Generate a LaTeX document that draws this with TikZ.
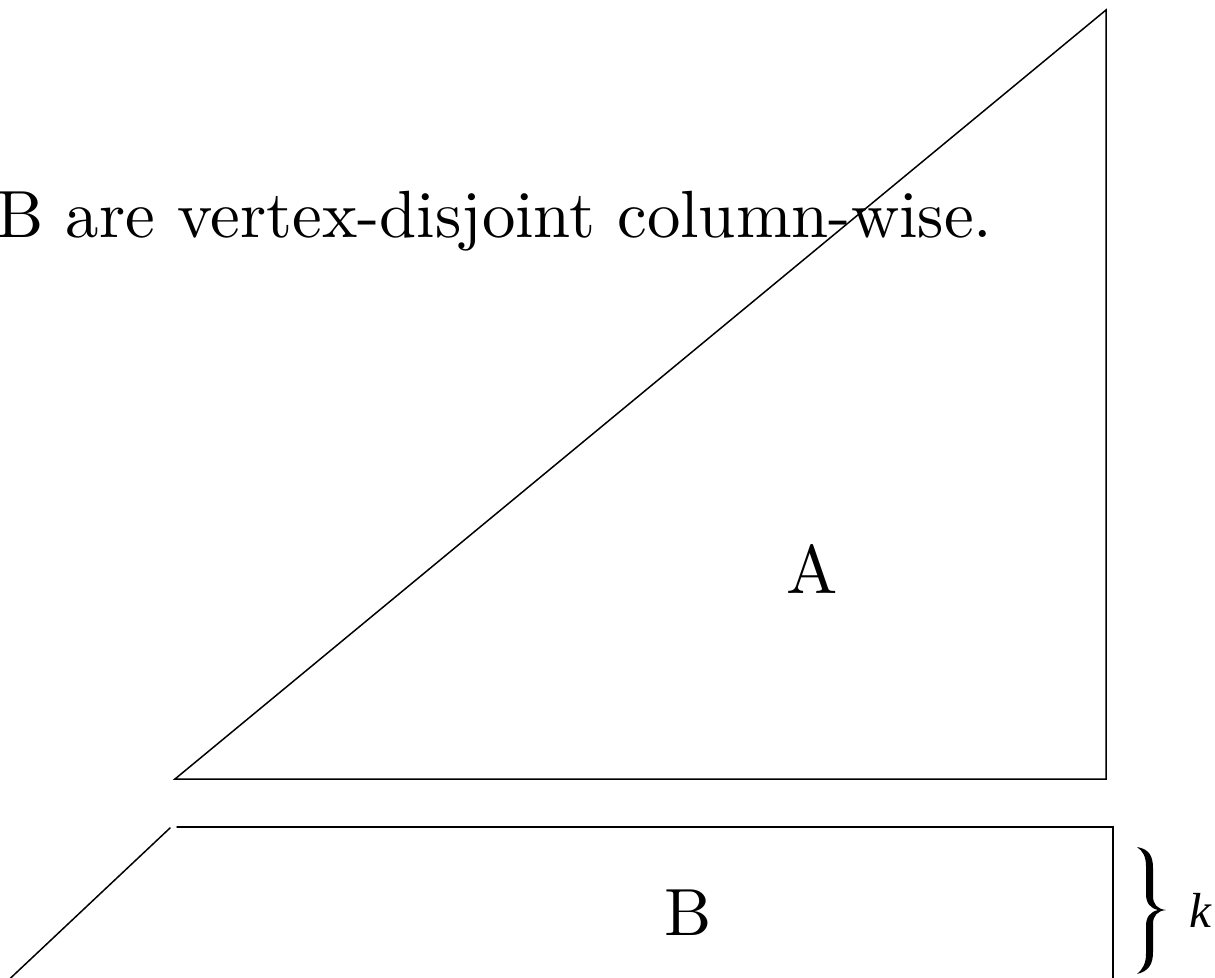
\documentclass[tikz,border=0pt]{standalone}
\usepackage{fontspec}
\setmainfont{lmroman10-regular}[Extension=.otf, ItalicFont=lmroman10-italic]
\newfontfamily\timesf{Liberation Serif}
\begin{document}
\begin{tikzpicture}[x=0.02cm,y=-0.02cm,
  edge/.style={line width=0.85pt, line cap=round},
  captext/.style={font=\fontsize{38}{42}\selectfont, inner sep=0pt},
  labeltext/.style={font=\fontsize{39}{44}\selectfont, inner sep=0pt}]
\useasboundingbox (0,0) rectangle (1215,978);
\begin{scope}
\clip (0,0) rectangle (1215,978);
% triangle A
\coordinate (tl) at (175,779);
\coordinate (tr) at (1106,779);
\coordinate (tt) at (1106,10);
\draw[edge] (tl) -- (tr) -- (tt) -- cycle;
% box B
\coordinate (bl) at (177,827);
\coordinate (br) at (1113,827);
\coordinate (bb) at (1113,990);
\draw[edge] (bl) -- (br) -- (bb);
\coordinate (dA) at (170,828);
\coordinate (dB) at (0,988);
\draw[edge] (dA) -- (dB);
% texts
\node[captext, anchor=base west] (cap) at (-4,237) {B are vertex-disjoint column-wise.};
\node[labeltext, anchor=base] (la) at (812,593) {A};
\node[captext, anchor=base] (lb) at (688,935) {B};
% brace
\fill (1137,847) .. controls (1149,849) and (1153,856) .. (1153,868) -- (1153,896)
  .. controls (1153,904) and (1157,909) .. (1166,910)
  .. controls (1157,911) and (1153,916) .. (1153,924) -- (1153,952)
  .. controls (1153,964) and (1149,971) .. (1137,974)
  .. controls (1143,969) and (1146,963) .. (1146,954) -- (1146,926)
  .. controls (1146,917) and (1150,912) .. (1158,910)
  .. controls (1150,908) and (1146,903) .. (1146,894) -- (1146,866)
  .. controls (1146,857) and (1143,851) .. (1137,847) -- cycle;
\coordinate (brtip) at (1166,910);
\node[inner sep=0pt, anchor=base] (k) at (1200,927)
  {\fontsize{28}{32}\selectfont\timesf\itshape k};
\end{scope}
\end{tikzpicture}
\end{document}
